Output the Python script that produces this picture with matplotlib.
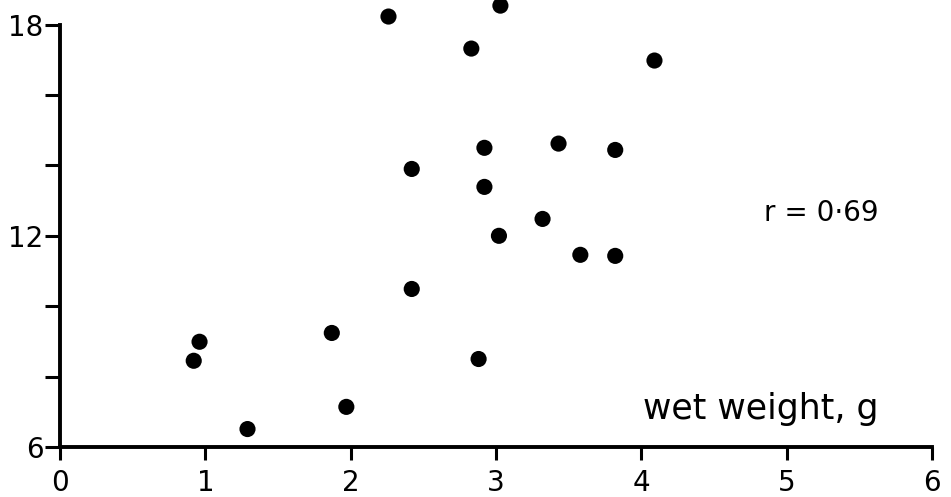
import matplotlib.pyplot as plt

# wet weight (g) vs value
wet_weight = [2.26, 3.03, 2.83, 4.09, 2.42, 2.92, 3.43, 3.82, 2.92, 3.32,
              3.02, 3.58, 3.82, 2.42, 1.87, 0.96, 0.92, 2.88, 1.97, 1.29]
values = [18.23, 18.54, 17.32, 16.98, 13.90, 14.50, 14.62, 14.44, 13.39, 12.48,
          12.00, 11.46, 11.43, 10.49, 9.24, 8.99, 8.45, 8.50, 7.14, 6.51]
x_ticks = [0, 1, 2, 3, 4, 5, 6]
y_ticks = [6, 8, 10, 12, 14, 16, 18]
y_tick_labels = ["6", "", "", "12", "", "", "18"]

plt.rcParams["font.family"] = ["DejaVu Sans"]

fig = plt.figure(figsize=(9.51, 4.97), dpi=100)
ax = fig.add_axes([0.0631, 0.1006, 0.917, 0.8994])

ax.scatter(wet_weight, values, s=135, color="black", edgecolors="none", zorder=3, clip_on=False)

ax.set_xlim(0, 6)
ax.set_ylim(6, 18.70)

for side in ["top", "right"]:
    ax.spines[side].set_visible(False)
ax.spines["left"].set_bounds(6, 18)
ax.spines["bottom"].set_bounds(0, 6)
for side in ["left", "bottom"]:
    ax.spines[side].set_linewidth(2.8)
    ax.spines[side].set_capstyle("projecting")

ax.set_xticks(x_ticks)
ax.set_xticklabels([str(t) for t in x_ticks])
ax.set_yticks(y_ticks)
ax.set_yticklabels(y_tick_labels)
ax.tick_params(axis="x", direction="out", length=9, width=2.2, labelsize=20, pad=7)
ax.tick_params(axis="y", direction="out", length=11, width=2.2, labelsize=20, pad=1)

ax.text(0.873, 0.523, "r = 0·69", transform=ax.transAxes, fontsize=20,
        ha="center", va="center")
ax.text(0.803, 0.085, "wet weight, g", transform=ax.transAxes, fontsize=25,
        ha="center", va="center")

fig.savefig("out.png", dpi=100)
